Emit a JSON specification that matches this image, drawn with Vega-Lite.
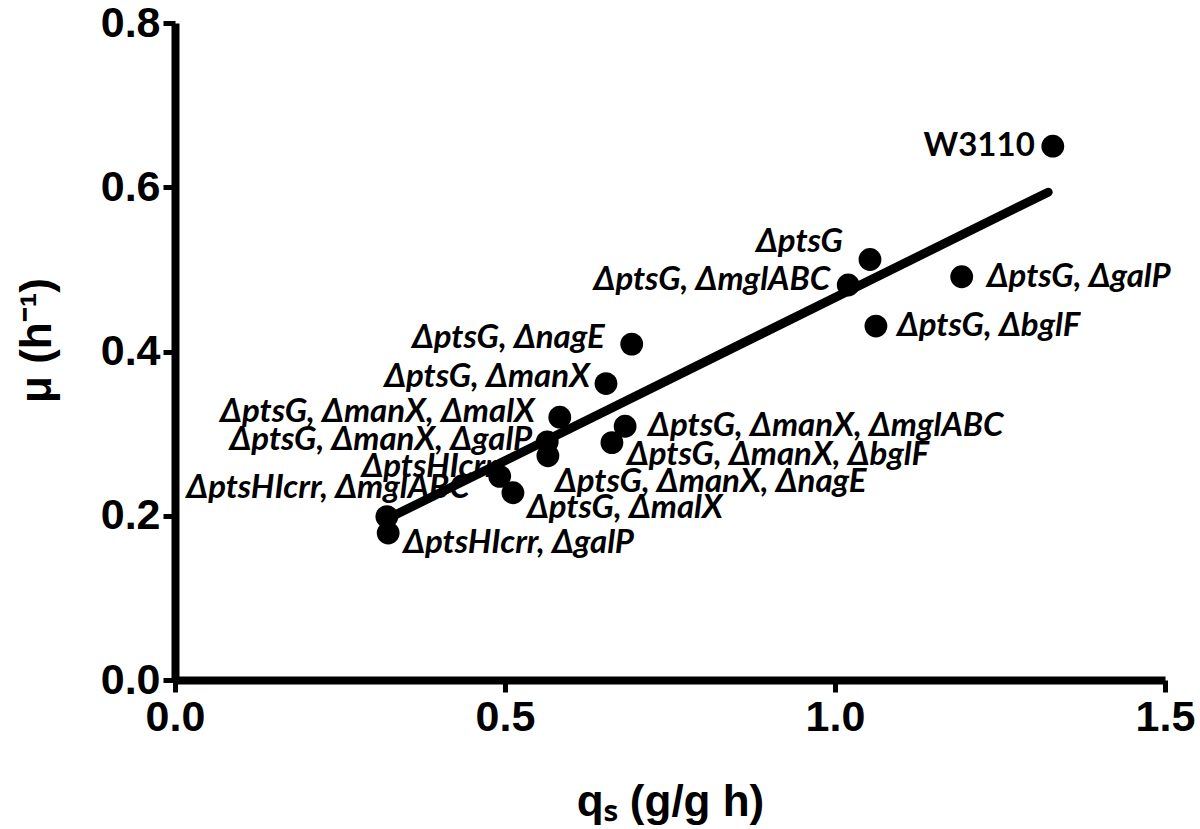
{
  "$schema": "https://vega.github.io/schema/vega-lite/v6.json",
  "width": 990,
  "height": 657,
  "autosize": {"type": "none"},
  "padding": {"left": 175, "top": 23, "right": 35, "bottom": 149},
  "background": "white",
  "config": {
    "view": {"stroke": null},
    "axis": {
      "grid": false,
      "domainColor": "black",
      "domainWidth": 8,
      "tickColor": "black",
      "tickWidth": 5,
      "tickSize": 12,
      "labelFlush": false,
      "labelFont": "Liberation Sans",
      "labelFontSize": 43,
      "labelFontWeight": "bold",
      "labelColor": "black",
      "titleFont": "Liberation Sans",
      "titleFontSize": 44,
      "titleFontWeight": "bold",
      "titleColor": "black"
    },
    "text": {"font": "Lato", "fontSize": 33, "fontWeight": "bold", "fontStyle": "italic", "baseline": "middle", "color": "black"}
  },
  "data": {"values": [
    {"name": "W3110", "qs": 1.330, "mu": 0.650},
    {"name": "ΔptsG", "qs": 1.053, "mu": 0.512},
    {"name": "ΔptsG, ΔmglABC", "qs": 1.020, "mu": 0.481},
    {"name": "ΔptsG, ΔgalP", "qs": 1.192, "mu": 0.491},
    {"name": "ΔptsG, ΔbglF", "qs": 1.062, "mu": 0.431},
    {"name": "ΔptsG, ΔnagE", "qs": 0.692, "mu": 0.409},
    {"name": "ΔptsG, ΔmanX", "qs": 0.653, "mu": 0.361},
    {"name": "ΔptsG, ΔmanX, ΔmalX", "qs": 0.583, "mu": 0.320},
    {"name": "ΔptsG, ΔmanX, ΔmglABC", "qs": 0.682, "mu": 0.309},
    {"name": "ΔptsG, ΔmanX, ΔgalP", "qs": 0.564, "mu": 0.290},
    {"name": "ΔptsG, ΔmanX, ΔnagE", "qs": 0.565, "mu": 0.273},
    {"name": "ΔptsG, ΔmanX, ΔbglF", "qs": 0.662, "mu": 0.289},
    {"name": "ΔptsHIcrr", "qs": 0.492, "mu": 0.248},
    {"name": "ΔptsG, ΔmalX", "qs": 0.512, "mu": 0.228},
    {"name": "ΔptsHIcrr, ΔmglABC", "qs": 0.321, "mu": 0.199},
    {"name": "ΔptsHIcrr, ΔgalP", "qs": 0.323, "mu": 0.179}
  ]},
  "encoding": {
    "x": {"field": "qs", "type": "quantitative", "scale": {"domain": [0, 1.5], "nice": false, "zero": false},
      "axis": {"values": [0, 0.5, 1, 1.5], "format": ".1f", "labelPadding": 4, "title": "qₛ (g/g h)",
        "titleX": 495, "titleY": 122, "titleAnchor": "middle", "titleAlign": "center", "titleBaseline": "middle"}},
    "y": {"field": "mu", "type": "quantitative", "scale": {"domain": [0, 0.8], "nice": false, "zero": false},
      "axis": {"values": [0, 0.2, 0.4, 0.6, 0.8], "format": ".1f", "labelPadding": 3, "title": "μ (h⁻¹)",
        "titleX": -138, "titleY": 317, "titleAngle": -90, "titleAlign": "center", "titleBaseline": "middle"}}
  },
  "layer": [
    {"data": {"values": [{"qs": 0.321, "mu": 0.196}, {"qs": 1.323, "mu": 0.594}]},
     "mark": {"type": "line", "color": "black", "strokeWidth": 9, "strokeCap": "round"},
     "encoding": {}},
    {"mark": {"type": "circle", "color": "black", "opacity": 1, "size": 520}},
    {"transform": [{"filter": "datum.name === 'W3110'"}], "mark": {"type": "text", "align": "right", "dx": -18, "dy": 0, "fontStyle": "normal"}, "encoding": {"text": {"field": "name"}}},
    {"transform": [{"filter": "datum.name === 'ΔptsG'"}], "mark": {"type": "text", "align": "right", "dx": -27, "dy": -18}, "encoding": {"text": {"field": "name"}}},
    {"transform": [{"filter": "datum.name === 'ΔptsG, ΔmglABC'"}], "mark": {"type": "text", "align": "right", "dx": -18, "dy": -5}, "encoding": {"text": {"field": "name"}}},
    {"transform": [{"filter": "datum.name === 'ΔptsG, ΔgalP'"}], "mark": {"type": "text", "align": "left", "dx": 25, "dy": 0}, "encoding": {"text": {"field": "name"}}},
    {"transform": [{"filter": "datum.name === 'ΔptsG, ΔbglF'"}], "mark": {"type": "text", "align": "left", "dx": 21, "dy": 0}, "encoding": {"text": {"field": "name"}}},
    {"transform": [{"filter": "datum.name === 'ΔptsG, ΔnagE'"}], "mark": {"type": "text", "align": "right", "dx": -27, "dy": -6}, "encoding": {"text": {"field": "name"}}},
    {"transform": [{"filter": "datum.name === 'ΔptsG, ΔmanX'"}], "mark": {"type": "text", "align": "right", "dx": -16, "dy": -7}, "encoding": {"text": {"field": "name"}}},
    {"transform": [{"filter": "datum.name === 'ΔptsG, ΔmanX, ΔmalX'"}], "mark": {"type": "text", "align": "right", "dx": -25, "dy": -5}, "encoding": {"text": {"field": "name"}}},
    {"transform": [{"filter": "datum.name === 'ΔptsG, ΔmanX, ΔgalP'"}], "mark": {"type": "text", "align": "right", "dx": -15, "dy": -2}, "encoding": {"text": {"field": "name"}}},
    {"transform": [{"filter": "datum.name === 'ΔptsHIcrr'"}], "mark": {"type": "text", "align": "right", "dx": -3, "dy": -9}, "encoding": {"text": {"field": "name"}}},
    {"transform": [{"filter": "datum.name === 'ΔptsHIcrr, ΔmglABC'"}], "mark": {"type": "text", "align": "right", "dx": 83, "dy": -29}, "encoding": {"text": {"field": "name"}}},
    {"transform": [{"filter": "datum.name === 'ΔptsHIcrr, ΔgalP'"}], "mark": {"type": "text", "align": "left", "dx": 15, "dy": 10}, "encoding": {"text": {"field": "name"}}},
    {"transform": [{"filter": "datum.name === 'ΔptsG, ΔmalX'"}], "mark": {"type": "text", "align": "left", "dx": 14, "dy": 15}, "encoding": {"text": {"field": "name"}}},
    {"transform": [{"filter": "datum.name === 'ΔptsG, ΔmanX, ΔnagE'"}], "mark": {"type": "text", "align": "left", "dx": 7, "dy": 26}, "encoding": {"text": {"field": "name"}}},
    {"transform": [{"filter": "datum.name === 'ΔptsG, ΔmanX, ΔbglF'"}], "mark": {"type": "text", "align": "left", "dx": 15, "dy": 12}, "encoding": {"text": {"field": "name"}}},
    {"transform": [{"filter": "datum.name === 'ΔptsG, ΔmanX, ΔmglABC'"}], "mark": {"type": "text", "align": "left", "dx": 23, "dy": 0}, "encoding": {"text": {"field": "name"}}}
  ]
}
